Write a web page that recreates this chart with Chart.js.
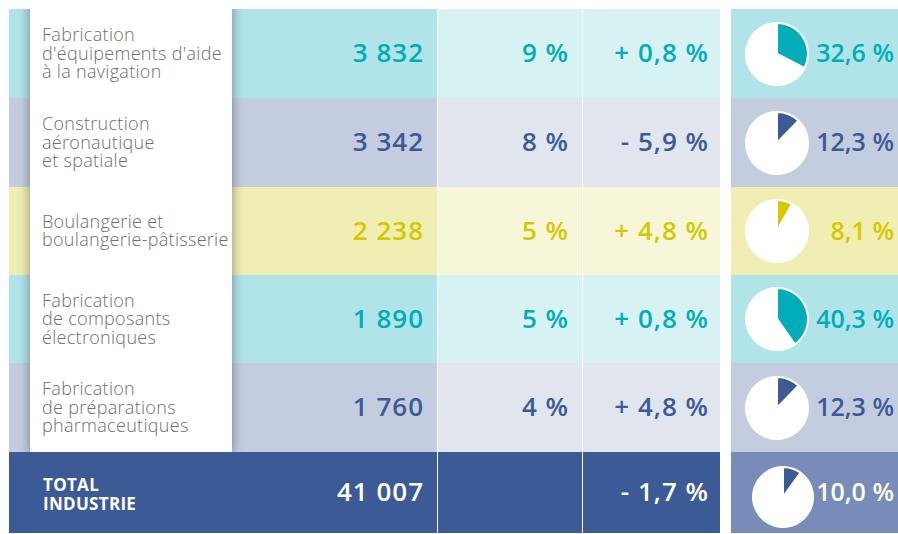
<!DOCTYPE html>
<html><head><meta charset="utf-8">
<script src="https://cdn.jsdelivr.net/npm/chart.js@4.4.1/dist/chart.umd.min.js"></script>
<style>
html,body{margin:0;padding:0;background:#fff;}
#wrap{position:relative;width:898px;height:534px;overflow:hidden;font-family:"Open Sans",sans-serif;}
.bg{position:absolute;}
.val{position:absolute;font-weight:600;font-size:26px;white-space:nowrap;text-align:right;}
.lab{position:absolute;color:#6d6f73;font-weight:300;font-size:18px;letter-spacing:0.3px;white-space:nowrap;}
.lab div{height:18.6px;line-height:18.6px;}
.tot{position:absolute;color:#fff;font-weight:700;font-size:17px;letter-spacing:0.3px;white-space:nowrap;}
.tot div{height:19px;line-height:19px;}
#clip{position:absolute;left:9px;top:9px;width:428px;height:443px;overflow:hidden;}
#box{position:absolute;left:21px;top:-20px;width:202px;height:463px;background:#fff;box-shadow:0 0 10px 1px rgba(40,50,60,0.45);}
.pie{position:absolute;}
</style></head>
<body><div id="wrap"></div>
<script>
// ---- data ----
const categories = [
  ["Fabrication", "d'équipements d'aide", "à la navigation"],
  ["Construction", "aéronautique", "et spatiale"],
  ["Boulangerie et", "boulangerie-pâtisserie"],
  ["Fabrication", "de composants", "électroniques"],
  ["Fabrication", "de préparations", "pharmaceutiques"]
];
const employees = [3832, 3342, 2238, 1890, 1760];
const shares = [9, 8, 5, 5, 4];
const changes = [0.8, -5.9, 4.8, 0.8, 4.8];
const pieShares = [32.6, 12.3, 8.1, 40.3, 12.3];
const totalLabel = ["TOTAL", "INDUSTRIE"];
const totalEmployees = 41007;
const totalChange = -1.7;
const totalPieShare = 10.0;
const rowThemes = ["teal", "blue", "yellow", "teal", "blue"];

// ---- styles ----
const themes = {
  teal:   {dark: "#b1e4e8", light: "#d7f2f3", text: "#00adb9"},
  blue:   {dark: "#c4cde0", light: "#e0e5ee", text: "#3c5a96"},
  yellow: {dark: "#f1eeb3", light: "#f8f6d9", text: "#d5c800"},
  total:  {dark: "#3c5a96", light: "#3c5a96", pie: "#778cb8", text: "#ffffff", slice: "#3c5a96"}
};
const rowTops = [9, 98, 187, 275, 363, 452];
const rowBottoms = [98, 187, 275, 363, 452, 533];

const wrap = document.getElementById("wrap");
function el(cls, css, txt) {
  const d = document.createElement("div");
  d.className = cls;
  Object.assign(d.style, css);
  if (txt !== undefined) d.innerHTML = txt;
  wrap.appendChild(d);
  return d;
}
function fmtInt(n) { return String(n).replace(/\B(?=(\d{3})+(?!\d))/g, "&nbsp;"); }
function fmtDec(n) { return n.toFixed(1).replace(".", ","); }
function fmtChange(n) { return (n >= 0 ? "+ " : "- ") + fmtDec(Math.abs(n)) + "&nbsp;%"; }
function lines(arr) { return arr.map(s => "<div>" + s + "</div>").join(""); }

function drawPie(cx, cy, value, color, size) {
  const c = document.createElement("canvas");
  c.width = size; c.height = size;
  c.className = "pie";
  c.style.left = (cx - size / 2) + "px";
  c.style.top = (cy - size / 2) + "px";
  c.style.width = size + "px"; c.style.height = size + "px";
  wrap.appendChild(c);
  new Chart(c, {
    type: "pie",
    data: { labels: ["part", "reste"], datasets: [{ data: [value, 100 - value],
      backgroundColor: [color, "#ffffff"], borderColor: "#ffffff", borderWidth: 2 }] },
    options: { responsive: false, animation: false, events: [],
      layout: { padding: 0 },
      plugins: { legend: { display: false }, tooltip: { enabled: false } } }
  });
}

function row(i, t) {
  const top = rowTops[i], h = rowBottoms[i] - rowTops[i];
  el("bg", {left: "9px", top: top + "px", width: "428px", height: h + "px", background: t.dark});
  el("bg", {left: "438px", top: top + "px", width: "144px", height: h + "px", background: t.light});
  el("bg", {left: "583px", top: top + "px", width: "137px", height: h + "px", background: t.light});
  el("bg", {left: "731px", top: top + "px", width: "167px", height: h + "px", background: t.pie || t.dark});
}
function valText(i, left, right, txt, color, extra) {
  const top = rowTops[i] - 1, h = rowBottoms[i] - rowTops[i];
  el("val", Object.assign({left: left + "px", width: (right - left) + "px", top: top + "px", height: h + "px",
    lineHeight: h + "px", color: color}, extra || {}), txt);
}
const colStyle = {letterSpacing: "1px"};
const pieStyle = {fontSize: "25px", letterSpacing: "0px"};

for (let i = 0; i < 5; i++) row(i, themes[rowThemes[i]]);
row(5, themes.total);

// label panel with shadow
const clip = document.createElement("div"); clip.id = "clip"; wrap.appendChild(clip);
const box = document.createElement("div"); box.id = "box"; clip.appendChild(box);

for (let i = 0; i < 5; i++) {
  const t = themes[rowThemes[i]];
  const top = rowTops[i], h = rowBottoms[i] - rowTops[i];
  const n = categories[i].length;
  el("lab", {left: "42px", top: (top + (h - n * 18.6) / 2 - 0.5) + "px", width: "195px"}, lines(categories[i]));
  valText(i, 240, 424, fmtInt(employees[i]), t.text, colStyle);
  valText(i, 440, 569, shares[i] + "&nbsp;%", t.text, colStyle);
  valText(i, 585, 709, fmtChange(changes[i]), t.text, colStyle);
  valText(i, 800, 894, fmtDec(pieShares[i]) + "&nbsp;%", t.text, pieStyle);
  drawPie(777, (rowTops[i] + rowBottoms[i]) / 2, pieShares[i], t.text, 64);
}
// total row
el("tot", {left: "43px", top: (452 + (81 - 38) / 2 + 1) + "px", width: "190px"}, lines(totalLabel));
valText(5, 240, 424, fmtInt(totalEmployees), "#fff", colStyle);
valText(5, 585, 709, fmtChange(totalChange), "#fff", colStyle);
valText(5, 800, 894, fmtDec(totalPieShare) + "&nbsp;%", "#fff", pieStyle);
drawPie(783, 497, totalPieShare, themes.total.slice, 62);
</script>
</body></html>
